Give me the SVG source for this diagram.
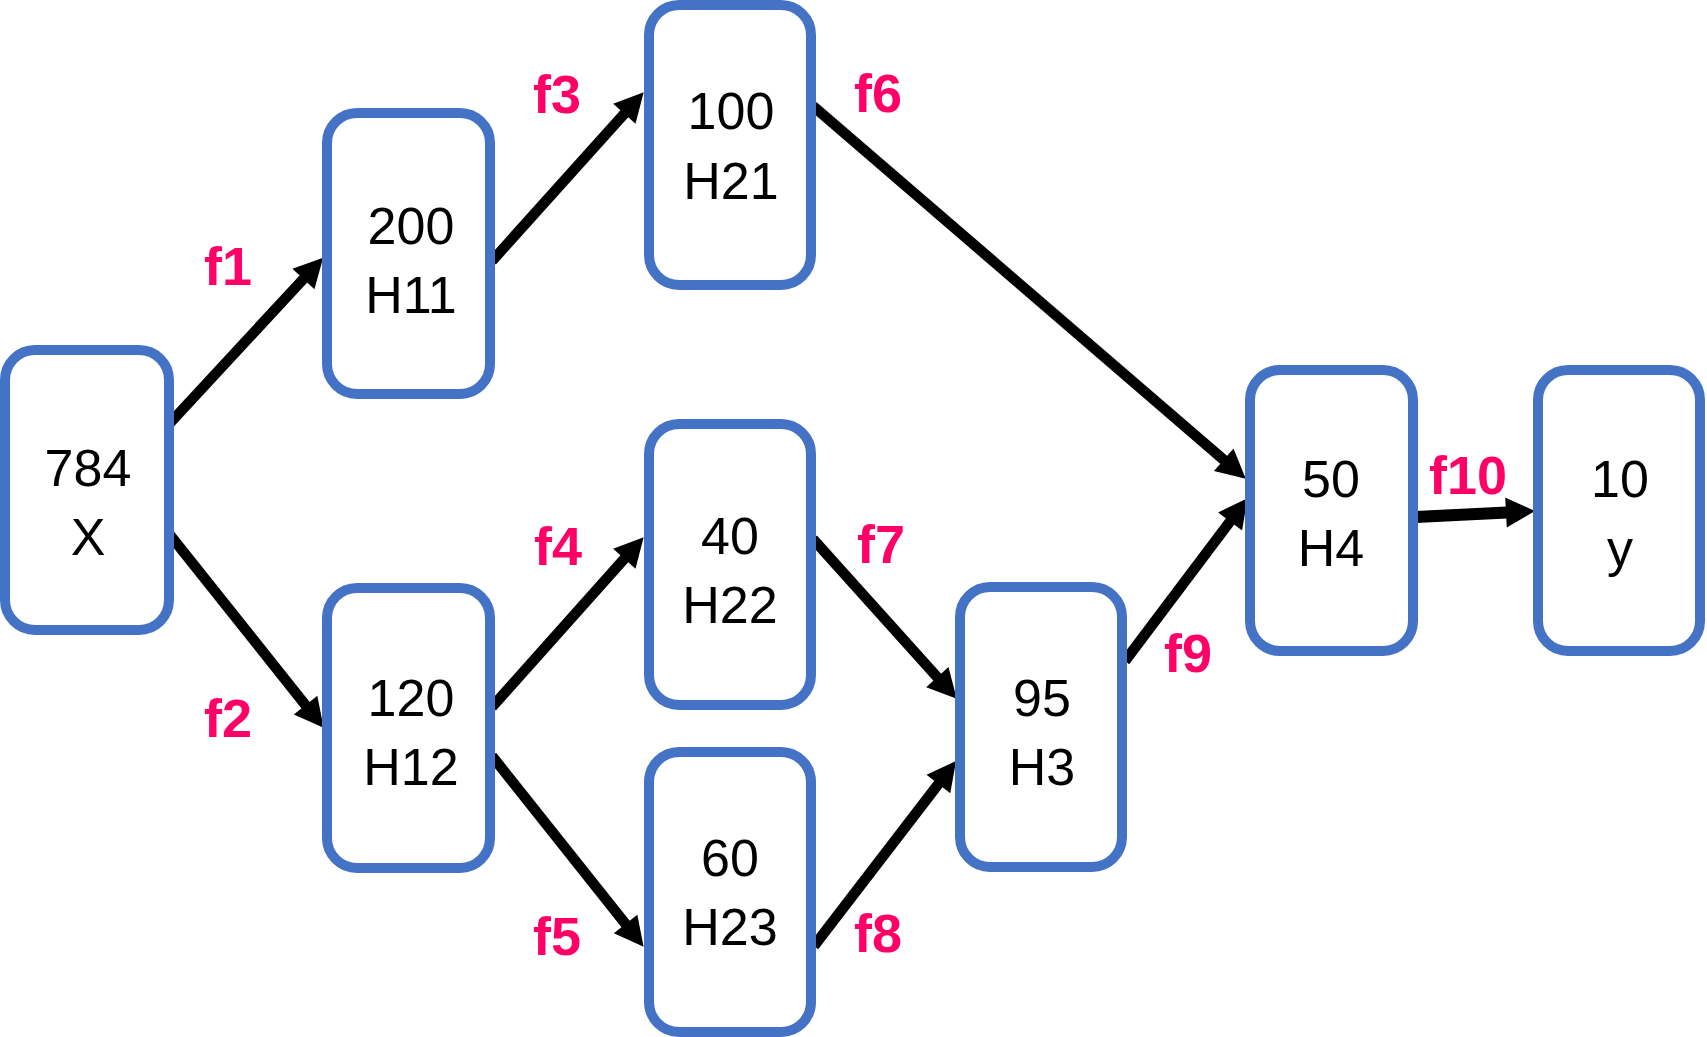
<svg xmlns="http://www.w3.org/2000/svg" width="1707" height="1037" viewBox="0 0 1707 1037">
<style>
.box{fill:#fff;stroke:#4472C4;stroke-width:10}
.t{font-family:"Liberation Sans",Arial,sans-serif;font-size:52px;fill:#000;text-anchor:middle}
.lbl{font-family:"Liberation Sans",Arial,sans-serif;font-size:54px;font-weight:bold;fill:#FF0066;text-anchor:middle}
.edge{stroke:#000;stroke-width:10.5;fill:none;marker-end:url(#ah)}
</style>
<defs>
<marker id="ah" markerUnits="userSpaceOnUse" markerWidth="30" markerHeight="32" refX="1" refY="15" orient="auto" overflow="visible">
<path d="M0,0 L29,15 L0,30 Z" fill="#000"/>
</marker>
</defs>
<rect width="1707" height="1037" fill="#fff"/>
<g id="connectors">
<line class="edge" x1="170" y1="423" x2="304.1" y2="278.2"/>
<line class="edge" x1="170" y1="535" x2="306.2" y2="705.9"/>
<line class="edge" x1="492" y1="261" x2="625" y2="113.1"/>
<line class="edge" x1="492" y1="707" x2="625" y2="558.1"/>
<line class="edge" x1="492" y1="756" x2="626.2" y2="924.8"/>
<line class="edge" x1="813" y1="106" x2="1224.5" y2="460.4"/>
<line class="edge" x1="813" y1="539" x2="938" y2="677.9"/>
<line class="edge" x1="814" y1="946" x2="939" y2="783.2"/>
<line class="edge" x1="1125" y1="661" x2="1230.7" y2="520.6"/>
<line class="edge" x1="1416" y1="517" x2="1507" y2="512.4" style="stroke-width:12"/>
</g>
<g id="labels">
<text class="lbl" x="228" y="285">f1</text>
<text class="lbl" x="228" y="737">f2</text>
<text class="lbl" x="557" y="113">f3</text>
<text class="lbl" x="558" y="565">f4</text>
<text class="lbl" x="557" y="955">f5</text>
<text class="lbl" x="878" y="112">f6</text>
<text class="lbl" x="881" y="563">f7</text>
<text class="lbl" x="878" y="952">f8</text>
<text class="lbl" x="1188" y="672">f9</text>
<text class="lbl" x="1468" y="494">f10</text>
</g>
<g id="node-X">
<rect class="box" x="5" y="350" width="164" height="280" rx="30"/>
<text class="t" x="88" y="486">784</text>
<text class="t" x="88" y="555">X</text>
</g>
<g id="node-H11">
<rect class="box" x="327" y="113" width="163" height="281" rx="30"/>
<text class="t" x="411" y="244">200</text>
<text class="t" x="411" y="313">H11</text>
</g>
<g id="node-H12">
<rect class="box" x="327" y="588" width="163" height="280" rx="30"/>
<text class="t" x="411" y="716">120</text>
<text class="t" x="411" y="785">H12</text>
</g>
<g id="node-H21">
<rect class="box" x="649" y="5" width="162" height="280" rx="30"/>
<text class="t" x="731" y="129">100</text>
<text class="t" x="731" y="199">H21</text>
</g>
<g id="node-H22">
<rect class="box" x="649" y="424" width="162" height="281" rx="30"/>
<text class="t" x="730" y="554">40</text>
<text class="t" x="730" y="623">H22</text>
</g>
<g id="node-H23">
<rect class="box" x="649" y="752" width="162" height="280" rx="30"/>
<text class="t" x="730" y="876">60</text>
<text class="t" x="730" y="945">H23</text>
</g>
<g id="node-H3">
<rect class="box" x="960" y="587" width="162" height="280" rx="30"/>
<text class="t" x="1042" y="716">95</text>
<text class="t" x="1042" y="785">H3</text>
</g>
<g id="node-H4">
<rect class="box" x="1250" y="370" width="163" height="281" rx="30"/>
<text class="t" x="1331" y="497">50</text>
<text class="t" x="1331" y="566">H4</text>
</g>
<g id="node-y">
<rect class="box" x="1538" y="370" width="162" height="281" rx="30"/>
<text class="t" x="1620" y="497">10</text>
<text class="t" x="1620" y="566">y</text>
</g>
</svg>
